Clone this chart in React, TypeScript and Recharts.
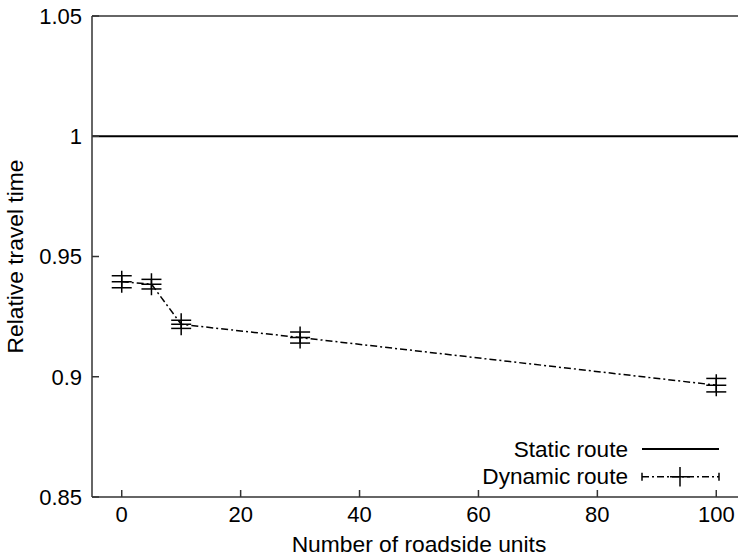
import React from 'react';
import { LineChart, Line, XAxis, YAxis, ErrorBar, ReferenceLine } from 'recharts';

// number of roadside units on the x axis
const roadsideUnits = [0, 5, 10, 30, 100];
// relative travel time of the dynamic route, with its error bar half-heights
const dynamicRoute = [0.9395, 0.9385, 0.9218, 0.9163, 0.8965];
const dynamicError = [0.0025, 0.002, 0.0017, 0.0023, 0.0028];
// static route is the reference (always 1)
const staticRoute = 1;

const xTicks = [0, 20, 40, 60, 80, 100];
const yTicks = [0.85, 0.9, 0.95, 1, 1.05];

const data = roadsideUnits.map((u, i) => ({
  units: u,
  time: dynamicRoute[i],
  err: dynamicError[i],
}));

const FONT = '"Liberation Sans", Arial, Helvetica, sans-serif';
const DASH = '7 3 2 3';
const AXIS = '#333';

const PlusDot = (props: any) => {
  const { cx, cy, index } = props;
  if (cx == null || cy == null) return <g key={`dot-${index}`} />;
  return (
    <path
      key={`dot-${index}`}
      d={`M${cx - 10},${cy}H${cx + 10}M${cx},${cy - 11}V${cy + 11}`}
      stroke="#000"
      strokeWidth={1.5}
      fill="none"
    />
  );
};

const tickStyle = { fill: '#000', fontSize: 22, fontFamily: FONT };
const labelStyle = { fill: '#000', fontSize: 22.8, fontFamily: FONT };

export default function App() {
  return (
    <div
      style={{
        position: 'absolute',
        left: 0,
        top: 0,
        width: 738,
        height: 556,
        overflow: 'hidden',
        background: '#fff',
      }}
    >
      <LineChart
        width={746}
        height={556}
        data={data}
        margin={{ top: 15, right: 0, bottom: 29, left: 0 }}
      >
        <XAxis
          dataKey="units"
          type="number"
          domain={[-5, 105]}
          ticks={xTicks}
          interval={0}
          tickSize={-7}
          tickMargin={16}
          height={30}
          tick={tickStyle}
          tickLine={{ stroke: AXIS, strokeWidth: 1.5 }}
          axisLine={{ stroke: AXIS, strokeWidth: 1.5 }}
          label={{
            value: 'Number of roadside units',
            position: 'bottom',
            offset: 9,
            style: labelStyle,
          }}
        />
        <XAxis
          xAxisId="top"
          orientation="top"
          type="number"
          domain={[-5, 105]}
          ticks={xTicks}
          interval={0}
          tickSize={-7}
          height={1}
          tick={false}
          tickLine={{ stroke: AXIS, strokeWidth: 1.5 }}
          axisLine={{ stroke: AXIS, strokeWidth: 1.5 }}
        />
        <YAxis
          type="number"
          domain={[0.85, 1.05]}
          ticks={yTicks}
          interval={0}
          width={92}
          tickSize={-7}
          tickMargin={17}
          tick={tickStyle}
          tickLine={{ stroke: AXIS, strokeWidth: 1.5 }}
          axisLine={{ stroke: AXIS, strokeWidth: 1.5 }}
          label={{
            value: 'Relative travel time',
            angle: -90,
            position: 'insideLeft',
            offset: 15,
            style: { ...labelStyle, textAnchor: 'middle' },
          }}
        />
        <ReferenceLine y={staticRoute} stroke="#000" strokeWidth={2} />
        <Line
          type="linear"
          dataKey="time"
          stroke="#000"
          strokeWidth={1.5}
          strokeDasharray={DASH}
          dot={PlusDot}
          activeDot={false}
          isAnimationActive={false}
        >
          <ErrorBar
            dataKey="err"
            direction="y"
            width={10}
            stroke="#000"
            strokeWidth={1.5}
            isAnimationActive={false}
          />
        </Line>
      </LineChart>
      <svg
        width={738}
        height={556}
        style={{ position: 'absolute', left: 0, top: 0, pointerEvents: 'none' }}
      >
        <g fontFamily={FONT} fontSize={22.6} fill="#000">
          <text x={628} y={456.5} textAnchor="end">Static route</text>
          <text x={628} y={484.2} textAnchor="end">Dynamic route</text>
        </g>
        <line x1={642} y1={449} x2={719} y2={449} stroke="#000" strokeWidth={2} />
        <line
          x1={642}
          y1={476.7}
          x2={719}
          y2={476.7}
          stroke="#000"
          strokeWidth={1.5}
          strokeDasharray={DASH}
        />
        <path
          d="M642,472.7V480.7M719,472.7V480.7M670,476.7H690M680,467V486.5"
          stroke="#000"
          strokeWidth={1.5}
          fill="none"
        />
      </svg>
    </div>
  );
}
